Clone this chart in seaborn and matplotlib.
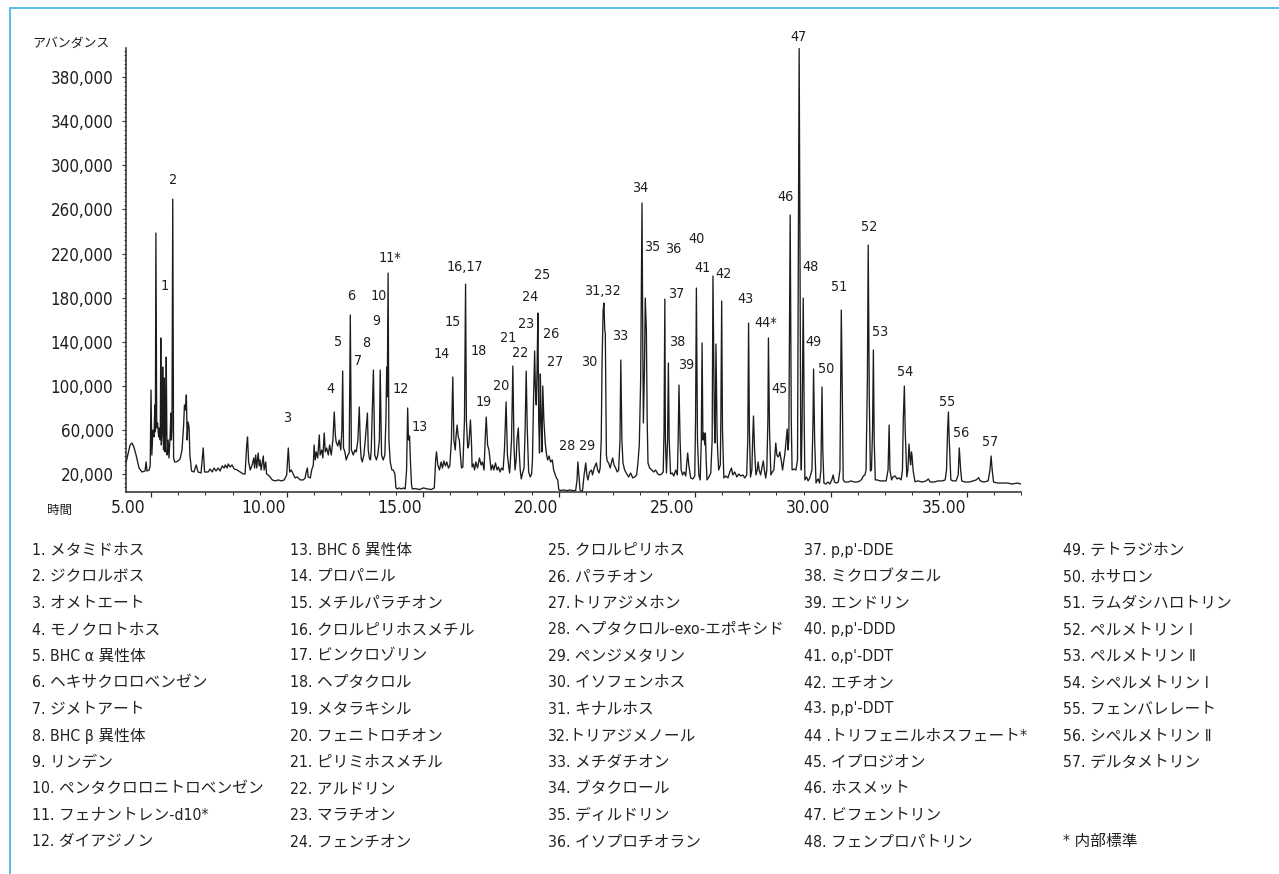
import matplotlib
matplotlib.use("Agg")
import numpy as np
import matplotlib.pyplot as plt
import seaborn as sns
from matplotlib.lines import Line2D
from matplotlib.ticker import MultipleLocator, FuncFormatter
from matplotlib.transforms import ScaledTranslation

# ---------------------------------------------------------------------------
# Total ion chromatogram, stored segment by segment
# retention time in minutes, abundance in thousands of counts
# ---------------------------------------------------------------------------
rt_04_06 = [4.08, 4.12, 4.23, 4.30, 4.37, 4.45, 4.56, 4.67, 4.78, 4.82,
            4.85, 4.93, 4.97, 5.00, 5.03, 5.07, 5.11, 5.14, 5.16, 5.18,
            5.21, 5.24, 5.28, 5.31, 5.34, 5.36, 5.38, 5.41, 5.43, 5.46,
            5.49, 5.52, 5.54, 5.56, 5.59, 5.63, 5.66, 5.70, 5.73, 5.75,
            5.77, 5.80, 5.83, 5.87, 5.92, 5.99, 6.07, 6.14, 6.20, 6.23,
            6.27, 6.30, 6.33, 6.36, 6.40, 6.43, 6.45, 6.49]
ab_04_06 = [30.0, 34.5, 46.3, 48.1, 44.5, 37.2, 25.4, 21.8, 22.7, 30.9,
            22.7, 23.6, 27.3, 96.2, 37.2, 59.9, 53.6, 82.6, 58.1, 238.6,
            61.7, 66.3, 53.6, 61.7, 50.8, 143.4, 46.3, 58.1, 117.0, 41.8,
            107.1, 40.0, 59.9, 126.1, 37.2, 50.8, 34.5, 52.7, 75.3, 50.8,
            59.9, 269.4, 34.5, 30.9, 30.9, 31.8, 33.6, 41.8, 64.4, 82.6,
            78.0, 91.7, 50.8, 67.2, 62.6, 37.2, 32.7, 22.7]

rt_06_10 = [6.58, 6.66, 6.73, 6.84, 6.92, 6.97, 7.10, 7.17, 7.25, 7.32,
            7.39, 7.47, 7.54, 7.62, 7.69, 7.73, 7.80, 7.84, 7.91, 7.98,
            8.06, 8.17, 8.28, 8.39, 8.46, 8.52, 8.55, 8.59, 8.65, 8.72,
            8.78, 8.81, 8.85, 8.89, 8.94, 8.98, 9.01, 9.05, 9.13, 9.16,
            9.22, 9.25, 9.35, 9.46, 9.57, 9.68, 9.79, 9.90, 9.99]
ab_06_10 = [21.8, 28.2, 21.8, 20.9, 43.6, 21.8, 21.8, 24.5, 21.8, 25.4,
            22.7, 25.4, 22.7, 27.3, 25.4, 28.2, 25.4, 29.1, 26.3, 28.2,
            24.5, 23.6, 21.8, 20.0, 20.0, 46.3, 53.6, 30.9, 23.6, 28.2,
            34.5, 25.4, 37.2, 25.4, 39.0, 27.3, 32.7, 23.6, 36.3, 23.6,
            30.9, 20.0, 18.2, 14.6, 13.7, 14.6, 13.7, 14.6, 19.1]

rt_10_14 = [10.05, 10.10, 10.16, 10.23, 10.30, 10.38, 10.49, 10.60, 10.67, 10.71,
            10.75, 10.78, 10.86, 10.91, 10.97, 11.00, 11.04, 11.08, 11.13, 11.19,
            11.22, 11.28, 11.32, 11.37, 11.41, 11.46, 11.52, 11.57, 11.63, 11.69,
            11.74, 11.78, 11.81, 11.87, 11.92, 11.98, 12.02, 12.05, 12.08, 12.13,
            12.18, 12.24, 12.29, 12.33, 12.37, 12.40, 12.44, 12.50, 12.55, 12.61,
            12.66, 12.70, 12.73, 12.77, 12.83, 12.88, 12.96, 12.99, 13.03, 13.07,
            13.10, 13.18, 13.23, 13.29, 13.34, 13.40, 13.43, 13.48, 13.54, 13.60,
            13.64, 13.67, 13.69, 13.72, 13.75, 13.80, 13.86, 13.91, 13.97]
ab_10_14 = [43.6, 21.8, 23.6, 20.0, 16.4, 17.3, 14.6, 14.6, 16.4, 21.8,
            25.4, 17.3, 16.4, 23.6, 28.2, 46.3, 32.7, 40.0, 34.5, 55.4,
            37.2, 41.8, 34.5, 57.2, 40.0, 43.6, 37.2, 46.3, 37.2, 50.8,
            76.2, 55.4, 49.0, 45.4, 50.8, 41.8, 59.9, 113.4, 43.6, 40.0,
            32.7, 37.2, 39.0, 164.2, 41.8, 40.0, 37.2, 41.8, 40.0, 50.8,
            80.8, 46.3, 34.5, 30.9, 37.2, 50.8, 75.3, 41.8, 34.5, 32.7,
            41.8, 114.3, 37.2, 32.7, 37.2, 50.8, 114.3, 37.2, 32.7, 37.2,
            69.0, 117.0, 90.0, 202.3, 50.8, 30.9, 23.6, 23.6, 20.0]

rt_14_17 = [14.01, 14.06, 14.13, 14.21, 14.28, 14.35, 14.40, 14.44, 14.47, 14.51,
            14.54, 14.58, 14.61, 14.72, 14.87, 15.02, 15.17, 15.31, 15.42, 15.47,
            15.50, 15.55, 15.61, 15.67, 15.72, 15.77, 15.83, 15.88, 15.94, 15.99,
            16.05, 16.10, 16.14, 16.19, 16.22, 16.26, 16.30, 16.34, 16.38, 16.42,
            16.47, 16.53, 16.57, 16.60, 16.65, 16.69, 16.75, 16.79, 16.81, 16.86,
            16.90, 16.95]
ab_14_17 = [7.3, 6.4, 7.3, 6.4, 7.3, 6.4, 23.6, 79.9, 50.8, 54.5,
            32.7, 10.9, 6.4, 6.8, 5.9, 7.3, 6.4, 5.9, 7.3, 32.7,
            40.0, 28.2, 23.6, 30.9, 25.4, 31.8, 27.3, 30.9, 25.4, 27.3,
            50.8, 108.0, 50.8, 41.8, 54.5, 64.4, 53.6, 50.8, 37.2, 25.4,
            26.3, 69.0, 192.3, 69.0, 43.6, 46.3, 69.0, 46.3, 26.3, 29.1,
            23.6, 30.9]

rt_17_20 = [17.01, 17.08, 17.14, 17.19, 17.25, 17.29, 17.33, 17.38, 17.43, 17.47,
            17.51, 17.56, 17.61, 17.67, 17.73, 17.78, 17.84, 17.89, 17.95, 18.00,
            18.06, 18.11, 18.15, 18.19, 18.22, 18.26, 18.31, 18.35, 18.39, 18.43,
            18.46, 18.51, 18.54, 18.58, 18.62, 18.66, 18.72, 18.76, 18.80, 18.84,
            18.89, 18.95, 19.00, 19.03, 19.07, 19.11, 19.14, 19.17, 19.20, 19.23,
            19.26, 19.29, 19.32, 19.35, 19.38, 19.41, 19.45, 19.50, 19.55, 19.59,
            19.64, 19.70, 19.76, 19.81, 19.86, 19.91, 19.96]
ab_17_20 = [25.4, 34.5, 28.2, 30.9, 23.6, 50.8, 71.7, 46.3, 41.8, 32.7,
            23.6, 28.2, 23.6, 30.0, 23.6, 26.3, 21.8, 25.4, 23.6, 41.8,
            85.3, 37.2, 28.2, 20.9, 32.7, 50.8, 118.0, 46.3, 23.6, 32.7,
            50.8, 61.7, 41.8, 23.6, 15.5, 20.0, 25.4, 59.9, 113.4, 59.9,
            21.8, 17.3, 20.0, 32.7, 87.1, 131.6, 96.2, 82.6, 114.3, 166.0,
            69.0, 39.0, 110.7, 69.0, 40.0, 99.8, 69.0, 48.1, 37.2, 32.7,
            36.3, 30.9, 32.7, 23.6, 20.0, 16.4, 14.6]

rt_20_23 = [20.00, 20.06, 20.17, 20.29, 20.40, 20.51, 20.62, 20.67, 20.70, 20.75,
            20.78, 20.83, 20.87, 20.93, 20.99, 21.03, 21.07, 21.13, 21.20, 21.24,
            21.30, 21.38, 21.43, 21.48, 21.52, 21.56, 21.59, 21.63, 21.66, 21.69,
            21.71, 21.73, 21.75, 21.78, 21.83, 21.89, 21.94, 21.98, 22.03, 22.09,
            22.15, 22.20, 22.25, 22.28, 22.32, 22.36, 22.42, 22.50, 22.57, 22.64,
            22.72, 22.79, 22.86, 22.91, 22.96]
ab_20_23 = [5.5, 5.0, 5.5, 4.9, 5.5, 4.9, 5.0, 14.6, 30.9, 14.6,
            5.5, 4.3, 4.6, 19.1, 30.0, 19.1, 14.6, 21.8, 23.6, 19.1,
            25.4, 30.0, 23.6, 20.9, 25.4, 50.8, 120.7, 168.7, 175.1, 150.6,
            147.9, 87.1, 37.2, 31.8, 30.0, 25.4, 30.9, 34.5, 28.2, 25.4,
            21.8, 23.6, 50.8, 123.4, 50.8, 30.0, 23.6, 20.0, 17.3, 20.9,
            16.4, 17.3, 19.1, 30.0, 46.3]

rt_23_26 = [23.01, 23.06, 23.09, 23.11, 23.15, 23.18, 23.22, 23.25, 23.28, 23.34,
            23.42, 23.49, 23.56, 23.64, 23.71, 23.78, 23.84, 23.87, 23.90, 23.92,
            23.96, 24.00, 24.03, 24.06, 24.11, 24.17, 24.23, 24.30, 24.36, 24.39,
            24.42, 24.46, 24.50, 24.55, 24.61, 24.67, 24.70, 24.74, 24.78, 24.85,
            24.93, 25.00, 25.03, 25.06, 25.10, 25.15, 25.20, 25.24, 25.27, 25.30,
            25.33, 25.37, 25.39, 25.42, 25.45, 25.52, 25.59, 25.64, 25.67, 25.72,
            25.75, 25.78, 25.82, 25.84, 25.88, 25.94, 25.96, 25.99, 26.02, 26.07]
ab_23_26 = [105.3, 265.8, 132.5, 66.3, 114.3, 179.6, 150.6, 69.0, 30.0, 25.4,
            23.6, 21.8, 23.6, 20.0, 19.1, 20.0, 21.8, 59.9, 178.7, 50.8,
            20.9, 50.8, 120.7, 50.8, 20.0, 20.9, 18.2, 23.6, 19.1, 50.8,
            100.7, 50.8, 23.6, 19.1, 21.8, 18.2, 28.2, 39.0, 28.2, 16.4,
            15.5, 18.2, 69.0, 188.7, 50.8, 19.1, 14.6, 50.8, 138.8, 50.8,
            57.2, 46.3, 57.2, 32.7, 14.6, 17.3, 20.9, 50.8, 199.6, 69.0,
            48.1, 137.9, 59.9, 41.8, 23.6, 28.2, 69.0, 176.9, 59.9, 16.4]

rt_26_29 = [26.14, 26.22, 26.29, 26.35, 26.40, 26.47, 26.55, 26.62, 26.69, 26.77,
            26.84, 26.91, 26.95, 26.98, 27.01, 27.05, 27.10, 27.13, 27.16, 27.20,
            27.25, 27.30, 27.33, 27.37, 27.42, 27.47, 27.52, 27.56, 27.61, 27.65,
            27.69, 27.71, 27.75, 27.80, 27.85, 27.91, 27.95, 27.98, 28.02, 28.07,
            28.10, 28.13, 28.19, 28.23, 28.28, 28.31, 28.36, 28.40, 28.43, 28.46,
            28.51, 28.55, 28.58, 28.65, 28.72, 28.78, 28.84, 28.90, 28.92, 28.95,
            28.99, 29.03, 29.05, 29.11]
ab_26_29 = [18.2, 16.4, 21.8, 25.4, 19.1, 21.8, 17.3, 20.0, 18.2, 19.1,
            16.4, 19.1, 50.8, 157.0, 59.9, 17.3, 23.6, 50.8, 72.6, 41.8,
            19.1, 23.6, 30.9, 23.6, 19.1, 25.4, 31.8, 23.6, 16.4, 23.6,
            69.0, 143.4, 59.9, 19.1, 21.8, 23.6, 37.2, 48.1, 37.2, 35.4,
            37.2, 40.0, 30.9, 23.6, 32.7, 37.2, 50.8, 60.8, 41.8, 50.8,
            254.9, 69.0, 23.6, 24.5, 23.6, 32.7, 406.0, 40.0, 23.6, 69.0,
            179.6, 59.9, 14.6, 17.3]

rt_29_33 = [29.17, 29.23, 29.31, 29.35, 29.37, 29.41, 29.46, 29.51, 29.54, 29.59,
            29.64, 29.68, 29.71, 29.75, 29.82, 29.90, 29.97, 30.04, 30.09, 30.14,
            30.21, 30.28, 30.34, 30.37, 30.39, 30.43, 30.46, 30.52, 30.64, 30.75,
            30.86, 30.97, 31.08, 31.15, 31.20, 31.26, 31.30, 31.35, 31.38, 31.42,
            31.46, 31.50, 31.54, 31.57, 31.60, 31.64, 31.71, 31.82, 31.92, 32.04,
            32.11, 32.15, 32.18, 32.24, 32.29, 32.37, 32.44, 32.51, 32.59, 32.64,
            32.67, 32.71, 32.74, 32.80, 32.84, 32.88, 32.92, 32.94, 32.97, 32.99,
            33.03]
ab_29_33 = [13.7, 16.4, 23.6, 69.0, 115.2, 50.8, 11.8, 14.6, 15.5, 11.8,
            23.6, 98.9, 41.8, 11.8, 10.9, 12.7, 10.9, 14.6, 19.1, 12.7,
            11.8, 12.7, 23.6, 105.3, 168.7, 87.1, 14.6, 12.7, 12.7, 13.7,
            12.7, 12.7, 13.7, 15.5, 18.2, 19.1, 23.6, 105.3, 227.7, 87.1,
            22.7, 23.6, 59.9, 132.5, 50.8, 14.6, 14.6, 13.7, 13.7, 13.7,
            23.6, 64.4, 23.6, 14.6, 17.3, 18.2, 15.5, 16.4, 14.6, 23.6,
            69.0, 99.8, 59.9, 17.3, 23.6, 47.2, 32.7, 28.2, 40.0, 37.2,
            23.6]

rt_33_37 = [33.10, 33.21, 33.36, 33.51, 33.59, 33.66, 33.80, 33.95, 34.10, 34.21,
            34.26, 34.30, 34.33, 34.36, 34.42, 34.50, 34.61, 34.69, 34.73, 34.78,
            34.82, 34.94, 35.09, 35.24, 35.35, 35.44, 35.50, 35.64, 35.79, 35.86,
            35.90, 35.94, 35.99, 36.12, 36.31, 36.49, 36.68, 36.86, 37.00]
ab_33_37 = [13.0, 13.7, 12.7, 13.7, 15.5, 12.7, 12.7, 13.7, 13.7, 14.6,
            23.6, 59.9, 76.2, 50.8, 14.6, 13.7, 13.7, 19.1, 43.6, 23.6,
            13.7, 12.7, 12.7, 13.7, 14.6, 16.6, 13.7, 12.7, 13.7, 23.6,
            36.3, 23.6, 12.7, 11.8, 11.8, 11.8, 10.9, 11.8, 10.9]

# Peak numbers and where each number sits (retention time, abundance in thousands)
peak_numbers = ["1", "2", "3", "4", "5", "6", "7", "8", "9", "10",
                "11*", "12", "13", "14", "15", "16,17", "18", "19", "20", "21",
                "22", "23", "24", "25", "26", "27", "28", "29", "30", "31,32",
                "33", "34", "35", "36", "37", "38", "39", "40", "41", "42",
                "43", "44*", "45", "46", "47", "48", "49", "50", "51", "52",
                "53", "54", "55", "56", "57"]
peak_number_rt = [5.50, 5.81, 10.02, 11.59, 11.89, 12.36, 12.60, 12.91, 13.28, 13.36,
                  13.77, 14.20, 14.87, 15.71, 16.10, 16.53, 17.04, 17.24, 17.88, 18.12,
                  18.58, 18.80, 18.95, 19.39, 19.72, 19.88, 20.30, 21.05, 21.11, 21.62,
                  22.26, 23.00, 23.44, 24.20, 24.33, 24.35, 24.69, 25.06, 25.28, 26.07,
                  26.87, 27.62, 28.11, 28.33, 28.80, 29.24, 29.36, 29.85, 30.30, 31.42,
                  31.81, 32.72, 34.27, 34.79, 35.87]
peak_number_ab = [190.8, 286.7, 71.1, 96.8, 140.0, 181.7, 122.5, 139.1, 159.0, 181.7,
                  215.6, 96.8, 62.9, 128.8, 157.6, 207.5, 131.8, 85.6, 100.1, 143.1,
                  129.5, 156.1, 180.8, 200.5, 147.0, 121.3, 45.7, 45.7, 121.3, 186.0,
                  145.2, 279.7, 226.2, 224.1, 183.0, 140.0, 118.9, 232.9, 207.1, 201.1,
                  179.0, 156.7, 96.8, 271.5, 416.1, 207.5, 139.7, 115.0, 189.3, 244.3,
                  148.8, 112.8, 85.6, 57.5, 49.3]

# Axis ticks
time_ticks = [5, 10, 15, 20, 25, 30, 35]
abundance_ticks = [20000, 60000, 100000, 140000, 180000, 220000, 260000,
                   300000, 340000, 380000]

# Compound list, printed in five columns
compounds_1 = ["1. メタミドホス", "2. ジクロルボス", "3. オメトエート", "4. モノクロトホス",
               "5. BHC α 異性体", "6. ヘキサクロロベンゼン", "7. ジメトアート",
               "8. BHC β 異性体", "9. リンデン", "10. ペンタクロロニトロベンゼン",
               "11. フェナントレン-d10*", "12. ダイアジノン"]
compounds_2 = ["13. BHC δ 異性体", "14. プロパニル", "15. メチルパラチオン",
               "16. クロルピリホスメチル", "17. ビンクロゾリン", "18. ヘプタクロル",
               "19. メタラキシル", "20. フェニトロチオン", "21. ピリミホスメチル",
               "22. アルドリン", "23. マラチオン", "24. フェンチオン"]
compounds_3 = ["25. クロルピリホス", "26. パラチオン", "27.トリアジメホン",
               "28. ヘプタクロル-exo-エポキシド", "29. ペンジメタリン", "30. イソフェンホス",
               "31. キナルホス", "32.トリアジメノール", "33. メチダチオン",
               "34. ブタクロール", "35. ディルドリン", "36. イソプロチオラン"]
compounds_4 = ["37. p,p'-DDE", "38. ミクロブタニル", "39. エンドリン", "40. p,p'-DDD",
               "41. o,p'-DDT", "42. エチオン", "43. p,p'-DDT", "44 .トリフェニルホスフェート*",
               "45. イプロジオン", "46. ホスメット", "47. ビフェントリン", "48. フェンプロパトリン"]
compounds_5 = ["49. テトラジホン", "50. ホサロン", "51. ラムダシハロトリン", "52. ペルメトリン Ⅰ",
               "53. ペルメトリン Ⅱ", "54. シペルメトリン Ⅰ", "55. フェンバレレート",
               "56. シペルメトリン Ⅱ", "57. デルタメトリン", "", "", "* 内部標準"]

# ---------------------------------------------------------------------------
retention_time = np.concatenate([rt_04_06, rt_06_10, rt_10_14, rt_14_17, rt_17_20,
                                 rt_20_23, rt_23_26, rt_26_29, rt_29_33, rt_33_37])
abundance = 1000 * np.concatenate([ab_04_06, ab_06_10, ab_10_14, ab_14_17, ab_17_20,
                                   ab_20_23, ab_23_26, ab_26_29, ab_29_33, ab_33_37])
assert len(retention_time) == len(abundance)

sns.set_theme(style="white")
plt.rcParams["font.family"] = ["DejaVu Sans", "Noto Sans CJK JP"]
plt.rcParams["font.stretch"] = "condensed"
plt.rcParams["axes.unicode_minus"] = False

W, H = 1279, 874
fig = plt.figure(figsize=(W / 100, H / 100), dpi=100)
fig.patch.set_facecolor("white")

ax = fig.add_axes([126 / W, 1 - 491.5 / H, (1021 - 126) / W, (491.5 - 48) / H])
ax.set_facecolor("white")

sns.lineplot(x=retention_time, y=abundance, ax=ax, color="#1c1c1c", linewidth=0.95,
             sort=False, estimator=None)

ax.set_xlim(4.08, 37.0)
ax.set_ylim(4100, 406500)
ax.set_xlabel("")
ax.set_ylabel("")

for side in ("top", "right"):
    ax.spines[side].set_visible(False)
for side in ("left", "bottom"):
    ax.spines[side].set_color("#2a2a2a")
    ax.spines[side].set_linewidth(1.1)

ax.set_xticks(time_ticks)
ax.xaxis.set_major_formatter(FuncFormatter(lambda v, _: f"{v:.2f}"))
ax.xaxis.set_minor_locator(MultipleLocator(1))
ax.set_yticks(abundance_ticks)
ax.yaxis.set_major_formatter(FuncFormatter(lambda v, _: f"{v:,.0f}"))
ax.yaxis.set_minor_locator(MultipleLocator(4000))

ax.tick_params(axis="both", which="both", direction="out", bottom=True, left=True,
               color="#2a2a2a")
ax.tick_params(axis="x", which="major", length=3.5, width=0.9, labelsize=12.5,
               pad=2, labelcolor="#1e1e1e")
ax.tick_params(axis="x", which="minor", length=2.2, width=0.7)
ax.tick_params(axis="y", which="major", length=3, width=0.8, labelsize=12.2,
               pad=6, labelcolor="#1e1e1e")
ax.tick_params(axis="y", which="minor", length=1.6, width=0.6)

# time labels sit a little to the left of their tick marks
shift = ScaledTranslation(-23 / 100, 0, fig.dpi_scale_trans)
for tick in ax.xaxis.get_major_ticks():
    tick.label1.set_transform(tick.label1.get_transform() + shift)

# peak numbers
for label, t, a in zip(peak_numbers, peak_number_rt, peak_number_ab):
    ax.text(t, a * 1000, label, ha="center", va="center", fontsize=10.3,
            color="#1e1e1e", clip_on=False)

# axis captions
fig.text(32 / W, 1 - 43 / H, "アバンダンス", ha="left", va="center",
         fontsize=9.3, color="#1e1e1e")
fig.text(59.5 / W, 1 - 510 / H, "時間", ha="center", va="center",
         fontsize=9, color="#1e1e1e")

# compound key
col_x = [32, 290, 548, 804, 1063]
row_y0, row_step = 550.0, 26.5
for x, column in zip(col_x, [compounds_1, compounds_2, compounds_3, compounds_4, compounds_5]):
    for i, name in enumerate(column):
        if name:
            fig.text(x / W, 1 - (row_y0 + i * row_step) / H, name, ha="left",
                     va="center", fontsize=11.3, color="#222222")

# thin blue frame along the top and left edges
frame_color = "#55bde9"
fig.add_artist(Line2D([10 / W, 1.0], [1 - 8 / H, 1 - 8 / H], transform=fig.transFigure,
                      color=frame_color, linewidth=1.4))
fig.add_artist(Line2D([10 / W, 10 / W], [0.0, 1 - 8 / H], transform=fig.transFigure,
                      color=frame_color, linewidth=1.4))

fig.savefig("out.png", dpi=100, facecolor="white")
